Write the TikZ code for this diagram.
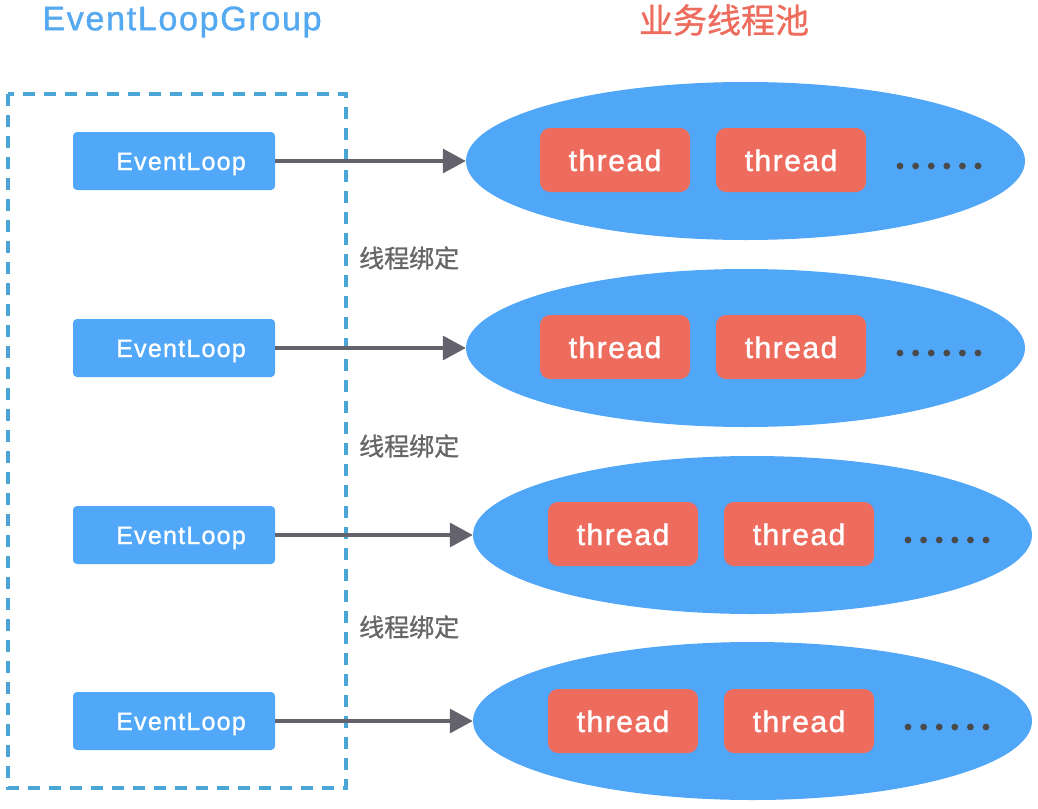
\documentclass[tikz,border=0pt]{standalone}
\usepackage{fontspec}
\setmainfont{Liberation Sans}[FakeBold=1.2]
\newfontfamily\cjk{Noto Sans CJK SC}[FakeBold=1]
\usepackage{tikz}
\usetikzlibrary{arrows.meta,shapes.geometric}

\definecolor{loopblue}{HTML}{51A7F8}
\definecolor{poolblue}{HTML}{50A6F7}
\definecolor{threadred}{HTML}{EE6C5E}
\definecolor{arrowgray}{HTML}{64636D}
\definecolor{dashblue}{HTML}{4BA6D8}
\definecolor{titleblue}{HTML}{55A9F0}
\definecolor{labelgray}{HTML}{666666}
\definecolor{dotgray}{HTML}{4A4A4A}

\begin{document}
\begin{tikzpicture}[x=1pt,y=-1pt,
  loopbox/.style={fill=loopblue,rounded corners=4pt,minimum width=202pt,minimum height=58pt,
    text=white,text height=18pt,text depth=0pt,
    font=\fontsize{25}{30}\selectfont\addfontfeature{LetterSpace=5}},
  pool/.style={ellipse,fill=poolblue,minimum width=559pt,minimum height=158pt},
  threadbox/.style={fill=threadred,rounded corners=10pt,minimum width=150pt,minimum height=64pt,
    text=white,text height=22pt,text depth=0pt,
    font=\fontsize{30}{36}\selectfont\addfontfeature{LetterSpace=5}},
  bind/.style={text=labelgray,font=\cjk\fontsize{25}{30}\selectfont,anchor=west,inner sep=0pt},
  link/.style={draw=arrowgray,line width=3.4pt,-{Triangle[length=23pt,width=24pt]}},
  dot/.style={fill=dotgray,draw=none}]
\useasboundingbox (0,0) rectangle (1038,808);
% titles
\node (grouptitle) [text=titleblue,text height=24.5pt,text depth=0pt,
  font=\fontsize{34}{40}\selectfont\addfontfeature{LetterSpace=5}] at (182,18) {EventLoopGroup};
\node (pooltitle) [text=threadred,font=\cjk\fontsize{34}{40}\selectfont] at (724,20) {业务线程池};
% group frame
\draw [dashblue,line width=3.4pt,dash pattern=on 12pt off 9pt] (8,94) rectangle (346,788);
% event loops
\node (el1) [loopbox] at (174,161) {\hspace{14pt}EventLoop};
\node (el2) [loopbox] at (174,348) {\hspace{14pt}EventLoop};
\node (el3) [loopbox] at (174,535) {\hspace{14pt}EventLoop};
\node (el4) [loopbox] at (174,721) {\hspace{14pt}EventLoop};
% thread pools
\node (pool1) [pool] at (745.5,161) {};
\node (pool2) [pool] at (745.5,348) {};
\node (pool3) [pool] at (752.5,535) {};
\node (pool4) [pool] at (752.5,721) {};
\node (th1a) [threadbox] at (615,160) {thread};
\node (th1b) [threadbox] at (791,160) {thread};
\node (th2a) [threadbox] at (615,347) {thread};
\node (th2b) [threadbox] at (791,347) {thread};
\node (th3a) [threadbox] at (623,534) {thread};
\node (th3b) [threadbox] at (799,534) {thread};
\node (th4a) [threadbox] at (623,721) {thread};
\node (th4b) [threadbox] at (799,721) {thread};
\foreach \k in {0,...,5} {
  \fill [dot] (900+\k*15.6,166) circle (3.4);
  \fill [dot] (900+\k*15.6,353) circle (3.4);
  \fill [dot] (908+\k*15.6,540) circle (3.4);
  \fill [dot] (908+\k*15.6,727) circle (3.4);
}
% bindings
\draw [link] (el1.east) -- (pool1.west);
\draw [link] (el2.east) -- (pool2.west);
\draw [link] (el3.east) -- (pool3.west);
\draw [link] (el4.east) -- (pool4.west);
\node (bind1) [bind] at (359,258) {线程绑定};
\node (bind2) [bind] at (359,446) {线程绑定};
\node (bind3) [bind] at (359,627) {线程绑定};
\end{tikzpicture}
\end{document}
